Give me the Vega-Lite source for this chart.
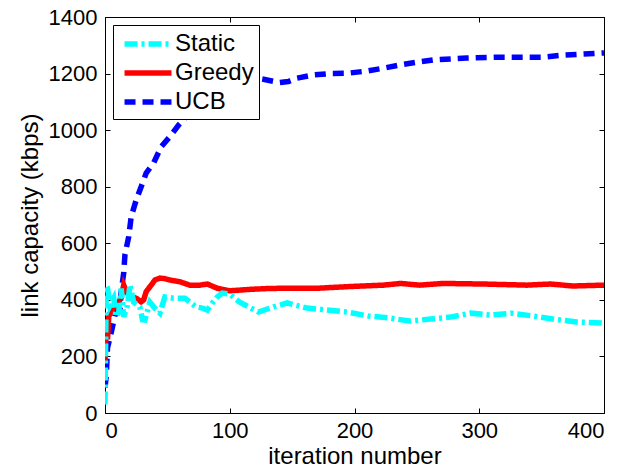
{
  "$schema": "https://vega.github.io/schema/vega-lite/v6.json",
  "autosize": {"type": "none"},
  "padding": {"left": 105, "top": 17, "right": 30, "bottom": 61},
  "width": 499,
  "height": 396,
  "background": "white",
  "config": {
    "view": {"stroke": "black", "strokeWidth": 1},
    "font": "Liberation Sans",
    "axis": {
      "grid": false,
      "domain": false,
      "tickColor": "black",
      "tickSize": -5,
      "labelFont": "Liberation Sans",
      "labelFontSize": 22,
      "labelColor": "black",
      "titleFont": "Liberation Sans",
      "titleFontSize": 24,
      "titleFontWeight": "normal",
      "titleColor": "black"
    }
  },
  "data": {
    "values": [
      {"x": 0, "v": 90, "s": "UCB"}, {"x": 1, "v": 130, "s": "UCB"}, {"x": 2, "v": 230, "s": "UCB"}, {"x": 5, "v": 285, "s": "UCB"}, {"x": 8, "v": 345, "s": "UCB"}, {"x": 10, "v": 360, "s": "UCB"}, {"x": 12, "v": 365, "s": "UCB"}, {"x": 13, "v": 430, "s": "UCB"}, {"x": 15, "v": 495, "s": "UCB"}, {"x": 16, "v": 560, "s": "UCB"}, {"x": 19, "v": 623, "s": "UCB"}, {"x": 21, "v": 694, "s": "UCB"}, {"x": 25, "v": 753, "s": "UCB"}, {"x": 29, "v": 800, "s": "UCB"}, {"x": 33, "v": 848, "s": "UCB"}, {"x": 39, "v": 884, "s": "UCB"}, {"x": 45, "v": 941, "s": "UCB"}, {"x": 52, "v": 977, "s": "UCB"}, {"x": 59, "v": 1018, "s": "UCB"}, {"x": 68, "v": 1060, "s": "UCB"}, {"x": 78, "v": 1100, "s": "UCB"}, {"x": 90, "v": 1135, "s": "UCB"}, {"x": 100, "v": 1155, "s": "UCB"}, {"x": 112, "v": 1175, "s": "UCB"}, {"x": 120, "v": 1185, "s": "UCB"}, {"x": 127, "v": 1180, "s": "UCB"}, {"x": 140, "v": 1168, "s": "UCB"}, {"x": 147, "v": 1172, "s": "UCB"}, {"x": 154, "v": 1184, "s": "UCB"}, {"x": 167, "v": 1195, "s": "UCB"}, {"x": 180, "v": 1200, "s": "UCB"}, {"x": 194, "v": 1201, "s": "UCB"}, {"x": 210, "v": 1209, "s": "UCB"}, {"x": 223, "v": 1219, "s": "UCB"}, {"x": 236, "v": 1230, "s": "UCB"}, {"x": 250, "v": 1240, "s": "UCB"}, {"x": 263, "v": 1248, "s": "UCB"}, {"x": 290, "v": 1255, "s": "UCB"}, {"x": 317, "v": 1258, "s": "UCB"}, {"x": 351, "v": 1258, "s": "UCB"}, {"x": 367, "v": 1265, "s": "UCB"}, {"x": 383, "v": 1269, "s": "UCB"}, {"x": 400, "v": 1273, "s": "UCB"},
      {"x": 0, "v": 180, "s": "Greedy"}, {"x": 1, "v": 330, "s": "Greedy"}, {"x": 2, "v": 260, "s": "Greedy"}, {"x": 3, "v": 340, "s": "Greedy"}, {"x": 5, "v": 364, "s": "Greedy"}, {"x": 7, "v": 370, "s": "Greedy"}, {"x": 9, "v": 376, "s": "Greedy"}, {"x": 11, "v": 390, "s": "Greedy"}, {"x": 13, "v": 411, "s": "Greedy"}, {"x": 15, "v": 452, "s": "Greedy"}, {"x": 17, "v": 430, "s": "Greedy"}, {"x": 19, "v": 417, "s": "Greedy"}, {"x": 22, "v": 410, "s": "Greedy"}, {"x": 25, "v": 406, "s": "Greedy"}, {"x": 29, "v": 393, "s": "Greedy"}, {"x": 31, "v": 400, "s": "Greedy"}, {"x": 33, "v": 429, "s": "Greedy"}, {"x": 37, "v": 452, "s": "Greedy"}, {"x": 40, "v": 470, "s": "Greedy"}, {"x": 44, "v": 477, "s": "Greedy"}, {"x": 48, "v": 475, "s": "Greedy"}, {"x": 52, "v": 470, "s": "Greedy"}, {"x": 60, "v": 464, "s": "Greedy"}, {"x": 68, "v": 452, "s": "Greedy"}, {"x": 76, "v": 452, "s": "Greedy"}, {"x": 82, "v": 456, "s": "Greedy"}, {"x": 90, "v": 441, "s": "Greedy"}, {"x": 100, "v": 432, "s": "Greedy"}, {"x": 116, "v": 437, "s": "Greedy"}, {"x": 130, "v": 440, "s": "Greedy"}, {"x": 143, "v": 441, "s": "Greedy"}, {"x": 170, "v": 441, "s": "Greedy"}, {"x": 196, "v": 447, "s": "Greedy"}, {"x": 223, "v": 452, "s": "Greedy"}, {"x": 237, "v": 458, "s": "Greedy"}, {"x": 252, "v": 452, "s": "Greedy"}, {"x": 271, "v": 458, "s": "Greedy"}, {"x": 303, "v": 456, "s": "Greedy"}, {"x": 338, "v": 452, "s": "Greedy"}, {"x": 357, "v": 456, "s": "Greedy"}, {"x": 375, "v": 449, "s": "Greedy"}, {"x": 400, "v": 452, "s": "Greedy"},
      {"x": 0, "v": 30, "s": "Static"}, {"x": 1, "v": 450, "s": "Static"}, {"x": 2, "v": 442, "s": "Static"}, {"x": 4, "v": 380, "s": "Static"}, {"x": 7, "v": 406, "s": "Static"}, {"x": 9, "v": 340, "s": "Static"}, {"x": 11, "v": 357, "s": "Static"}, {"x": 13, "v": 440, "s": "Static"}, {"x": 15, "v": 340, "s": "Static"}, {"x": 18, "v": 380, "s": "Static"}, {"x": 20, "v": 452, "s": "Static"}, {"x": 23, "v": 392, "s": "Static"}, {"x": 28, "v": 375, "s": "Static"}, {"x": 30, "v": 330, "s": "Static"}, {"x": 32, "v": 329, "s": "Static"}, {"x": 36, "v": 392, "s": "Static"}, {"x": 40, "v": 370, "s": "Static"}, {"x": 44, "v": 353, "s": "Static"}, {"x": 48, "v": 410, "s": "Static"}, {"x": 55, "v": 406, "s": "Static"}, {"x": 64, "v": 406, "s": "Static"}, {"x": 73, "v": 375, "s": "Static"}, {"x": 78, "v": 371, "s": "Static"}, {"x": 82, "v": 364, "s": "Static"}, {"x": 86, "v": 389, "s": "Static"}, {"x": 90, "v": 410, "s": "Static"}, {"x": 94, "v": 424, "s": "Static"}, {"x": 100, "v": 420, "s": "Static"}, {"x": 108, "v": 392, "s": "Static"}, {"x": 123, "v": 357, "s": "Static"}, {"x": 135, "v": 375, "s": "Static"}, {"x": 146, "v": 389, "s": "Static"}, {"x": 162, "v": 371, "s": "Static"}, {"x": 178, "v": 364, "s": "Static"}, {"x": 194, "v": 357, "s": "Static"}, {"x": 211, "v": 343, "s": "Static"}, {"x": 228, "v": 336, "s": "Static"}, {"x": 244, "v": 325, "s": "Static"}, {"x": 261, "v": 332, "s": "Static"}, {"x": 277, "v": 339, "s": "Static"}, {"x": 293, "v": 353, "s": "Static"}, {"x": 309, "v": 346, "s": "Static"}, {"x": 326, "v": 353, "s": "Static"}, {"x": 343, "v": 343, "s": "Static"}, {"x": 359, "v": 332, "s": "Static"}, {"x": 378, "v": 322, "s": "Static"}, {"x": 400, "v": 318, "s": "Static"}
    ]
  },
  "resolve": {"axis": {"x": "independent", "y": "independent"}},
  "layer": [
    {
      "mark": {"type": "line", "strokeWidth": 5.5, "strokeCap": "butt", "clip": true},
      "encoding": {
        "x": {"field": "x", "type": "quantitative", "scale": {"domain": [0, 400], "nice": false}, "axis": {"values": [0, 100, 200, 300, 400], "format": "d", "title": "iteration number", "labelPadding": 12, "titlePadding": 3}},
        "y": {"field": "v", "type": "quantitative", "scale": {"domain": [0, 1400], "nice": false}, "axis": {"values": [0, 200, 400, 600, 800, 1000, 1200, 1400], "format": "d", "title": "link capacity (kbps)", "labelPadding": 13, "titlePadding": 6}},
        "color": {"field": "s", "type": "nominal", "scale": {"domain": ["Static", "Greedy", "UCB"], "range": ["#00FFFF", "#FF0000", "#0000FF"]},
          "legend": {"title": null, "orient": "none", "legendX": 8, "legendY": 8, "fillColor": "white", "strokeColor": "black", "padding": 5, "symbolType": "M-2.1,0H2.1", "symbolSize": 500, "symbolOffset": 16, "symbolStrokeWidth": 5.5, "labelFontSize": 24, "labelFont": "Liberation Sans", "labelColor": "black", "labelOffset": 13, "rowPadding": 3}},
        "strokeDash": {"field": "s", "type": "nominal", "scale": {"domain": ["Static", "Greedy", "UCB"], "range": [[13, 4, 3, 4], [1, 0], [11, 7]]},
          "legend": {"title": null, "orient": "none", "legendX": 8, "legendY": 8, "fillColor": "white", "strokeColor": "black", "padding": 5, "symbolType": "M-2.1,0H2.1", "symbolSize": 500, "symbolOffset": 16, "symbolStrokeWidth": 5.5, "labelFontSize": 24, "labelFont": "Liberation Sans", "labelColor": "black", "labelOffset": 13, "rowPadding": 3}},
        "order": {"field": "x", "type": "quantitative"}
      }
    },
    {
      "mark": {"type": "line", "opacity": 0},
      "encoding": {
        "x": {"field": "x", "type": "quantitative", "axis": {"orient": "top", "values": [0, 100, 200, 300, 400], "labels": false, "title": null}},
        "y": {"field": "v", "type": "quantitative", "axis": {"orient": "right", "values": [0, 200, 400, 600, 800, 1000, 1200, 1400], "labels": false, "title": null}},
        "detail": {"field": "s"}
      }
    }
  ]
}
